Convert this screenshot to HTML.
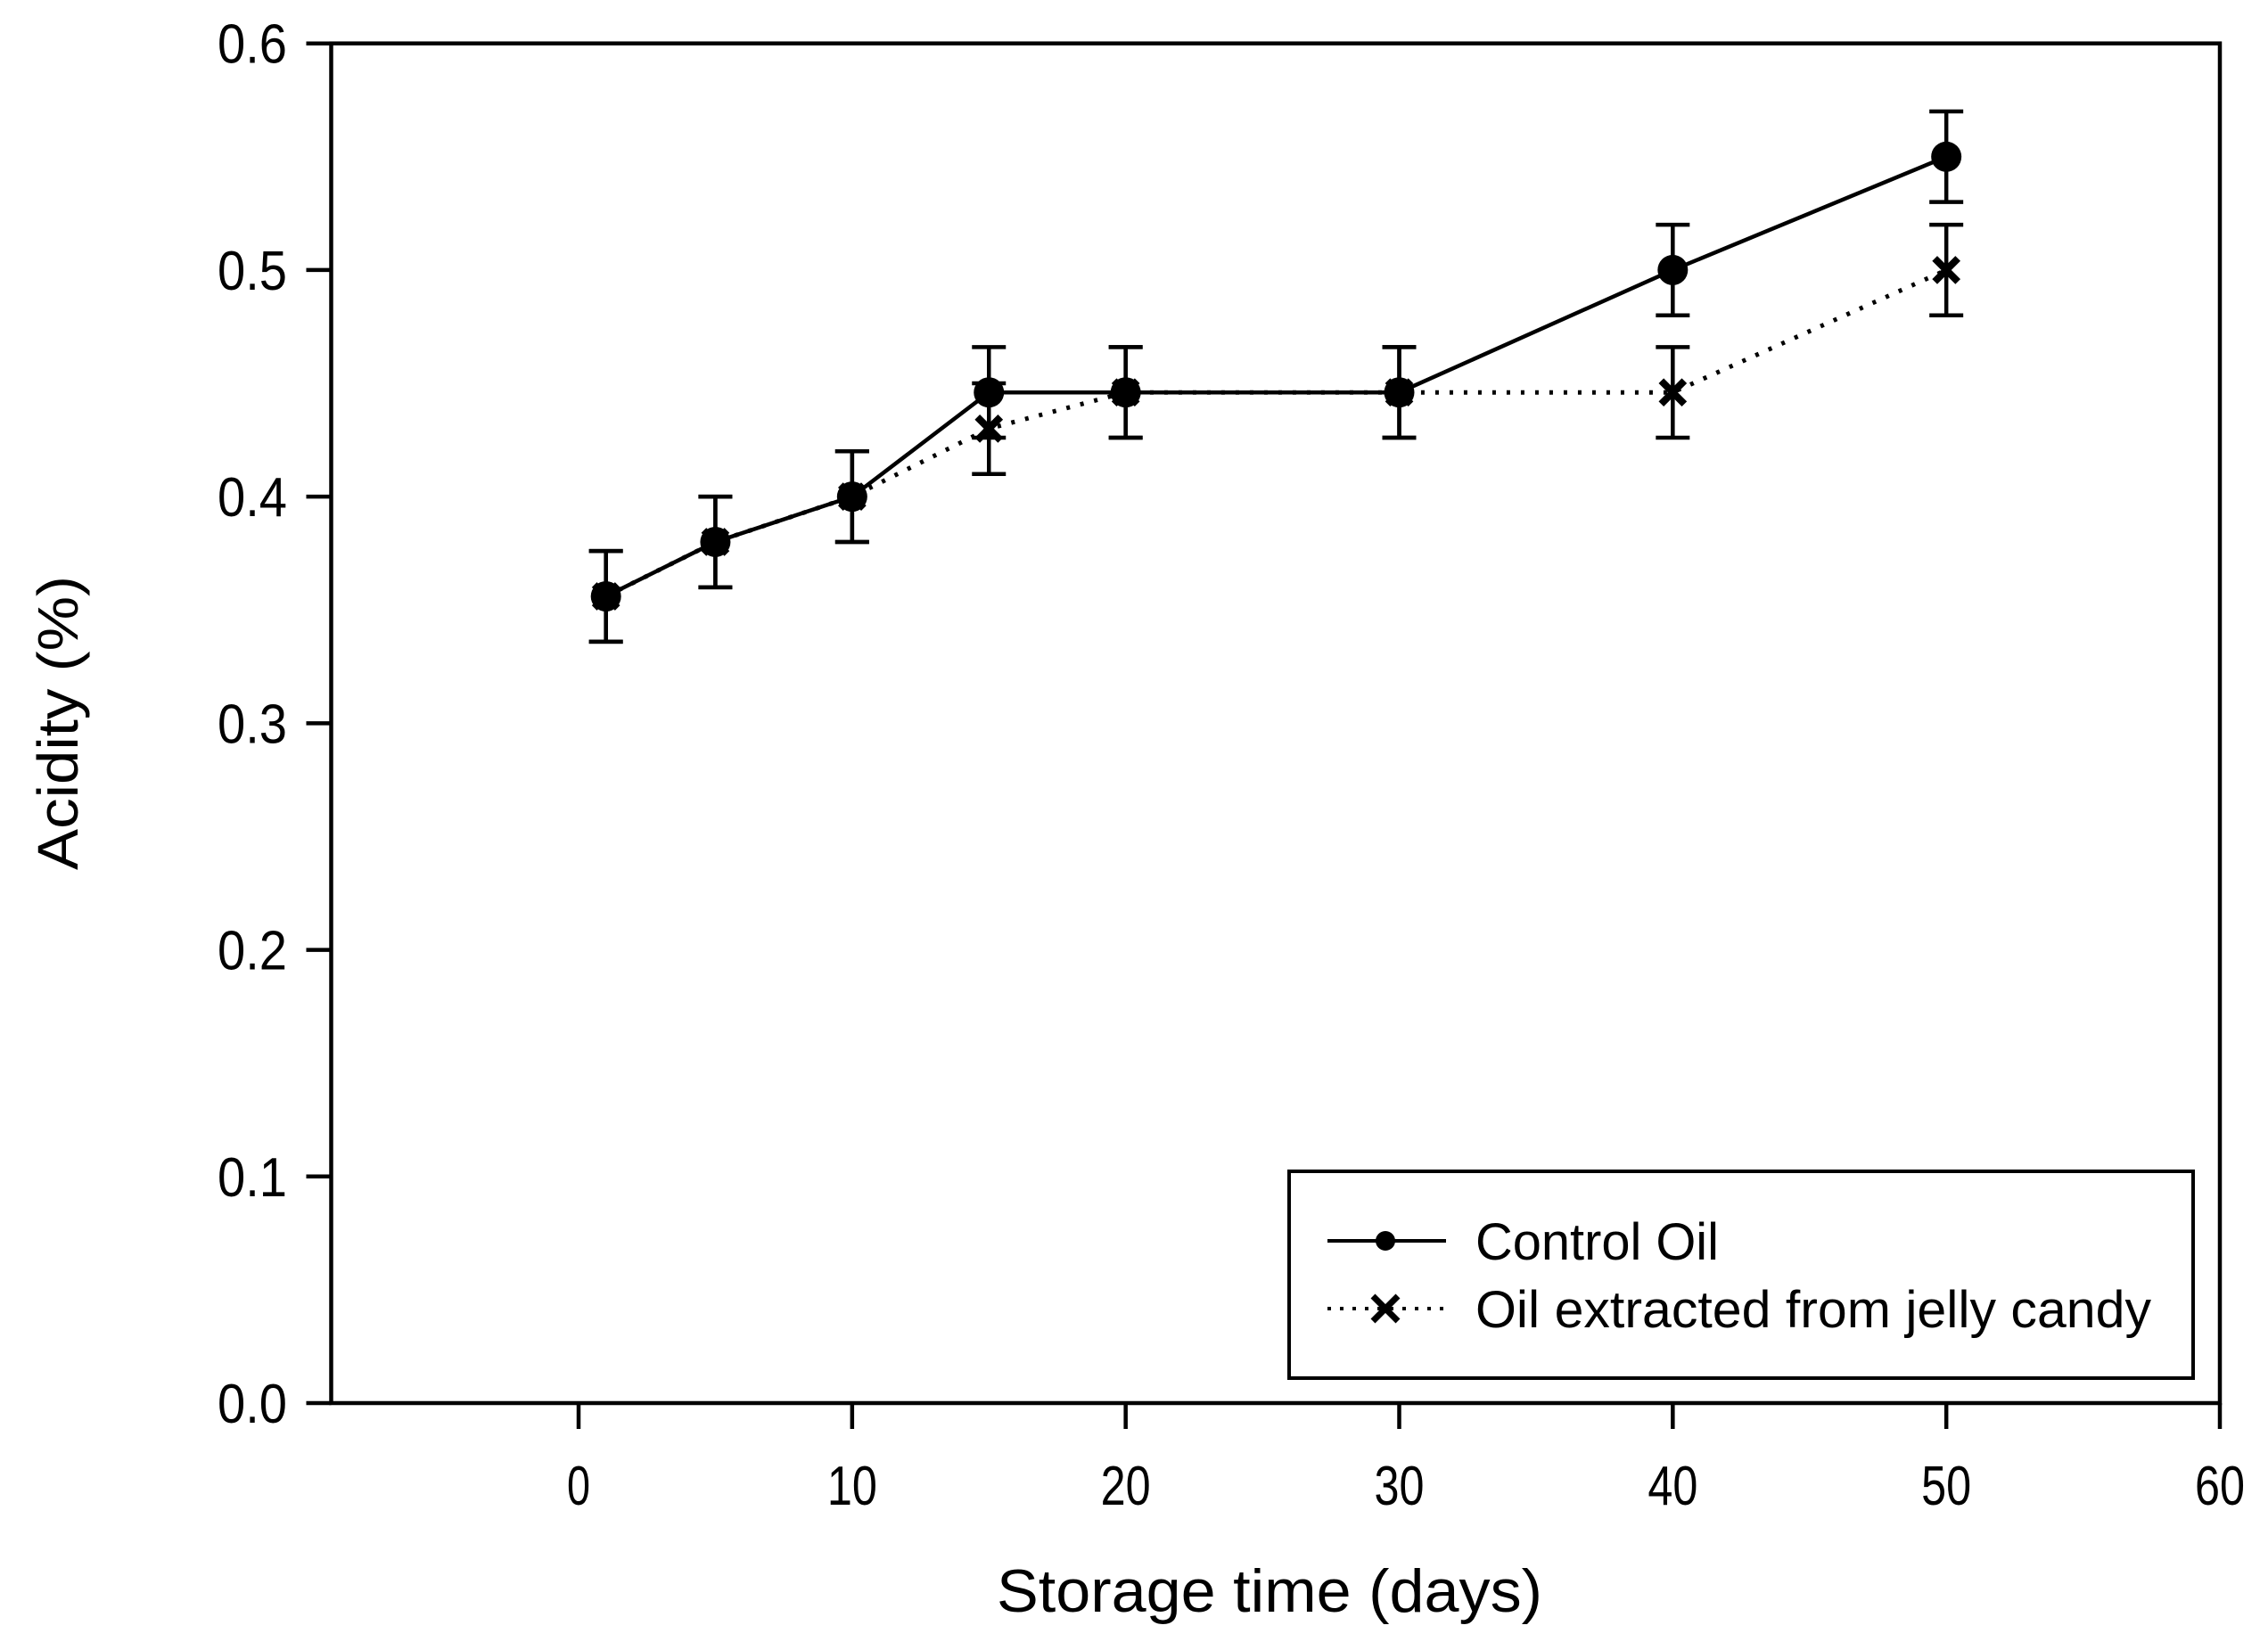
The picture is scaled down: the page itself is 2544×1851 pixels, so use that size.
<!DOCTYPE html>
<html><head><meta charset="utf-8"><style>
html,body{margin:0;padding:0;background:#fff;}
svg{display:block;}
text{font-family:"Liberation Sans",Arial,sans-serif;fill:#000;}
</style></head><body>
<svg id="chart" width="2544" height="1851" viewBox="0 0 2544 1851" xmlns="http://www.w3.org/2000/svg">
<rect x="0" y="0" width="2544" height="1851" fill="#fff"/>
<g id="plot"></g>
<text x="65" y="811" font-size="64" text-anchor="middle" dominant-baseline="central" transform="rotate(-90 65 811)" textLength="330" lengthAdjust="spacingAndGlyphs">Acidity (%)</text>
<text x="1424" y="1808" font-size="68" text-anchor="middle" textLength="612" lengthAdjust="spacingAndGlyphs">Storage time (days)</text>
<g>
<rect x="1446" y="1314" width="1014" height="232" fill="#fff" stroke="#000" stroke-width="4"/>
<g>
<line x1="1489" y1="1392" x2="1622" y2="1392" stroke="#000" stroke-width="4"/>
<circle cx="1554" cy="1392" r="11" fill="#000"/>
<text x="1655" y="1413" font-size="58" textLength="273" lengthAdjust="spacingAndGlyphs">Control Oil</text>
</g>
<g>
<line x1="1489" y1="1468" x2="1622" y2="1468" stroke="#000" stroke-width="4" stroke-dasharray="4 10"/>
<path d="M1540 1454 L1568 1482 M1568 1454 L1540 1482" stroke="#000" stroke-width="7"/>
<text x="1655" y="1489" font-size="58" textLength="758" lengthAdjust="spacingAndGlyphs">Oil extracted from jelly candy</text>
</g>
</g>
</svg>
<script>
const days = [1, 5, 10, 15, 20, 30, 40, 50];
const controlOil = [0.356, 0.38, 0.40, 0.446, 0.446, 0.446, 0.50, 0.55];
const jellyOil = [0.356, 0.38, 0.40, 0.43, 0.446, 0.446, 0.446, 0.50];
const controlErr = [0.02, 0.02, 0.02, 0.02, 0.02, 0.02, 0.02, 0.02];
const jellyErr = [0.02, 0.02, 0.02, 0.02, 0.02, 0.02, 0.02, 0.02];
const xTicks = [0, 10, 20, 30, 40, 50, 60];
const yTicks = [0.0, 0.1, 0.2, 0.3, 0.4, 0.5, 0.6];
const yTickLabels = ["0.0", "0.1", "0.2", "0.3", "0.4", "0.5", "0.6"];

const L = 371.5, R = 2490, T = 48.7, B = 1574;
const x0px = 649, xPer = (2490 - 649) / 60;
function sx(v) { return x0px + v * xPer; }
function sy(v) { return B - (v / 0.6) * (B - T); }

const NS = "http://www.w3.org/2000/svg";
const plot = document.getElementById("plot");
function mk(tag, attrs, parent) {
  const e = document.createElementNS(NS, tag);
  for (const k in attrs) e.setAttribute(k, attrs[k]);
  (parent || plot).appendChild(e);
  return e;
}

const frame = mk("rect", {x: L, y: T, width: R - L, height: B - T, fill: "none", stroke: "#000", "stroke-width": 4.5});



yTicks.forEach((v, i) => {
  const t = mk("line", {x1: L - 28, x2: L, y1: sy(v), y2: sy(v), stroke: "#000", "stroke-width": 4.5});
  
  
  const lb = mk("text", {x: 322, y: sy(v) + 22, "font-size": 62, "text-anchor": "end", textLength: 78, lengthAdjust: "spacingAndGlyphs"});
  lb.textContent = yTickLabels[i];
  
  
});
xTicks.forEach((v) => {
  const t = mk("line", {x1: sx(v), x2: sx(v), y1: B, y2: B + 29, stroke: "#000", "stroke-width": 4.5});
  
  
  const lb = mk("text", {x: sx(v), y: 1688, "font-size": 62, "text-anchor": "middle"});
  if (v >= 10) { lb.setAttribute("textLength", 56); lb.setAttribute("lengthAdjust", "spacingAndGlyphs"); }
  else { lb.setAttribute("textLength", 26); lb.setAttribute("lengthAdjust", "spacingAndGlyphs"); }
  lb.textContent = String(v);
  
  
});

function series(vals, errs, dashed, marker, name) {
  const g = mk("g", {});
  
  
  const pts = days.map((d, i) => sx(d) + "," + sy(vals[i])).join(" ");
  const pl = mk("polyline", {points: pts, fill: "none", stroke: "#000", "stroke-width": dashed ? 5 : 4.5, "stroke-dasharray": dashed ? "4 12" : "none"}, g);
  
  
  days.forEach((d, i) => {
    const cx = sx(d), hi = sy(vals[i] + errs[i]), lo = sy(vals[i] - errs[i]);
    const eb = mk("path", {d: `M${cx} ${hi} L${cx} ${lo} M${cx - 19} ${hi} L${cx + 19} ${hi} M${cx - 19} ${lo} L${cx + 19} ${lo}`, stroke: "#000", "stroke-width": 4.5, fill: "none"}, g);
    
    
    const cy = sy(vals[i]);
    let m;
    if (marker === "circle") {
      m = mk("circle", {cx: cx, cy: cy, r: 17, fill: "#000"}, g);
    } else {
      m = mk("path", {d: `M${cx - 13} ${cy - 13} L${cx + 13} ${cy + 13} M${cx + 13} ${cy - 13} L${cx - 13} ${cy + 13}`, stroke: "#000", "stroke-width": 8}, g);
    }
    
    
  });
}
series(jellyOil, jellyErr, true, "x", "jelly-candy-oil-series");
series(controlOil, controlErr, false, "circle", "control-oil-series");
</script>
</body></html>
